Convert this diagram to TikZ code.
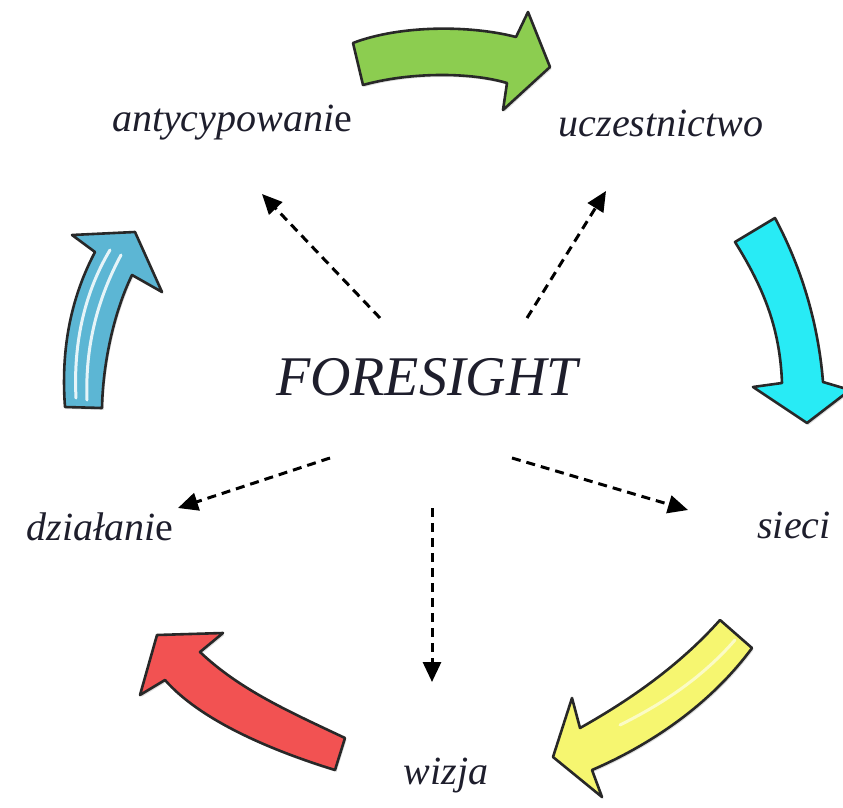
\documentclass[tikz,border=0pt]{standalone}
\usepackage{fontspec}
\setmainfont{Liberation Serif}
\usetikzlibrary{arrows.meta,shadows}

\definecolor{txt}{RGB}{30,30,44}
\definecolor{cgreen}{RGB}{140,205,80}
\definecolor{ccyan}{RGB}{40,235,245}
\definecolor{cyellow}{RGB}{246,246,112}
\definecolor{cred}{RGB}{242,82,82}
\definecolor{cblue}{RGB}{92,182,212}
\definecolor{edge}{RGB}{40,40,40}

\tikzset{
  label/.style={font=\itshape\fontsize{40}{40}\selectfont, text=txt, inner sep=0pt},
  title/.style={font=\itshape\fontsize{56}{56}\selectfont, text=txt, inner sep=0pt},
  link/.style={draw=black, line width=3pt, dash pattern=on 9pt off 6pt,
    -{Triangle[length=20pt,width=18pt]}},
  bigarrow/.style={draw=edge, line width=2.6pt, line join=round,
    drop shadow={shadow xshift=1.5pt, shadow yshift=-2pt, opacity=0.25}},
  shine/.style={draw=white, line width=3pt, line cap=round, opacity=0.85}
}

\begin{document}
\begin{tikzpicture}[x=1pt,y=-1pt]
\useasboundingbox (0,0) rectangle (843,808);

% centre and the five labels
\node[title] (fs) at (427,377) {FORESIGHT};
\node[label] (ant) at (232,123) {antycypowani\upshape e};
\node[label] (ucz) at (661,123) {uczestnictwo};
\node[label] (dzi) at (100,527) {działani\upshape e};
\node[label] (sie) at (794,525) {sieci};
\node[label] (wiz) at (446,776) {wizja};

% ends of the dashed links
\coordinate (s1) at (380,318); \coordinate (e1) at (262,194);
\coordinate (s2) at (527,318); \coordinate (e2) at (606,191);
\coordinate (s3) at (330,458); \coordinate (e3) at (178,508);
\coordinate (s4) at (512,458); \coordinate (e4) at (688,510);
\coordinate (s5) at (432,508); \coordinate (e5) at (432,682);

\draw[link] (s1) -- (e1);
\draw[link] (s2) -- (e2);
\draw[link] (s3) -- (e3);
\draw[link] (s4) -- (e4);
\draw[link] (s5) -- (e5);

% green arrow (top)
\filldraw[bigarrow, fill=cgreen]
  (353,43) .. controls (400,25) and (470,25) .. (516,37)
  -- (528,12) -- (550,67) -- (503,110) -- (507,83)
  .. controls (470,72) and (410,72) .. (363,85) -- cycle;

% cyan arrow (right)
\filldraw[bigarrow, fill=ccyan]
  (735,242) .. controls (765,290) and (780,330) .. (782,383)
  -- (753,387) -- (807,423) -- (850,390) -- (823,382)
  .. controls (818,320) and (800,265) .. (775,218) -- cycle;

% yellow arrow (bottom right)
\filldraw[bigarrow, fill=cyellow]
  (720,620) .. controls (680,665) and (630,700) .. (580,728)
  -- (572,698) -- (553,757) -- (602,797) -- (592,770)
  .. controls (650,745) and (710,705) .. (752,648) -- cycle;
\draw[shine, opacity=0.6] (735,640) .. controls (700,680) and (660,705) .. (620,725);

% red arrow (bottom left)
\filldraw[bigarrow, fill=cred]
  (345,738) .. controls (290,712) and (240,690) .. (200,652)
  -- (223,633) -- (157,635) -- (140,695) -- (165,680)
  .. controls (200,720) and (270,750) .. (335,770) -- cycle;

% blue arrow (left)
\filldraw[bigarrow, fill=cblue]
  (65,407) .. controls (60,340) and (75,290) .. (95,252)
  -- (72,235) -- (135,232) -- (162,292) -- (132,275)
  .. controls (115,310) and (103,360) .. (102,408) -- cycle;
\draw[shine] (76,398) .. controls (73,340) and (86,290) .. (110,250);
\draw[shine] (87,400) .. controls (85,345) and (98,298) .. (121,255);
\end{tikzpicture}
\end{document}
